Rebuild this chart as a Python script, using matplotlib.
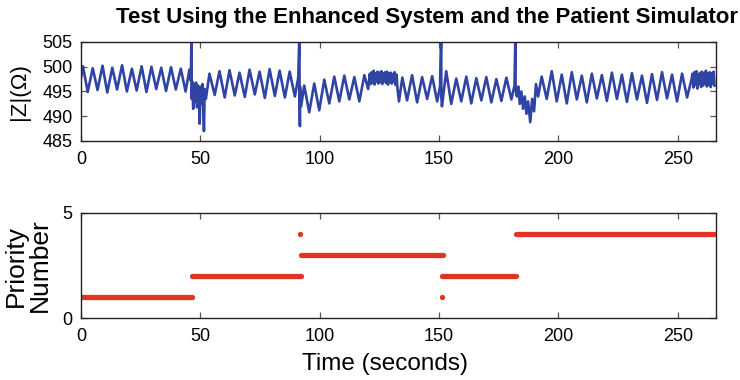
import matplotlib
matplotlib.use("Agg")
import matplotlib.pyplot as plt

plt.rcParams["font.family"] = ["Liberation Sans", "DejaVu Sans"]

# |Z| trace: turning points, segment by segment (time in s, ohms)
t_seg_a = [0.0, 0.8, 2.8, 4.9, 6.9, 9.0, 11.0, 13.1, 15.1, 17.2, 19.2, 21.3, 23.3,
           25.4, 27.4, 29.5, 31.5, 33.6, 35.6, 37.7, 39.7, 41.8, 43.8, 45.4, 46.0]
z_seg_a = [497.8, 500.1, 494.9, 499.7, 495.3, 500.2, 494.8, 499.8, 495.4, 500.3, 495.0, 499.6, 495.2,
           500.1, 494.9, 500.0, 495.5, 499.8, 495.1, 499.9, 495.4, 499.6, 495.0, 499.4, 497.2]
t_seg_b = [46.3, 46.35, 46.6, 47.0, 47.4, 47.8, 48.2, 48.6, 49.0, 49.4, 49.7, 50.1,
           50.5, 50.9, 51.3, 51.5, 51.8, 52.3]
z_seg_b = [507.0, 493.5, 497.0, 491.5, 496.5, 493.0, 496.8, 491.8, 496.2, 493.5, 488.5, 496.0,
           492.5, 496.5, 490.0, 487.0, 495.5, 493.5]
t_seg_c = [53.8, 56.0, 58.0, 60.2, 62.2, 64.4, 66.4, 68.6, 70.6, 72.8, 74.8, 77.0, 79.0,
           81.2, 83.2, 85.4, 87.4, 89.6, 91.0]
z_seg_c = [498.6, 494.3, 499.1, 493.8, 499.3, 494.2, 498.8, 493.9, 499.4, 494.4, 499.0, 493.7, 499.5,
           494.1, 499.2, 493.8, 499.0, 494.0, 497.8]
t_seg_d = [91.5, 91.55, 91.7, 91.75, 92.2]
z_seg_d = [507.0, 495.0, 488.0, 496.0, 492.0]
t_seg_e = [93.5, 95.6, 97.7, 99.8, 101.9, 104.0, 106.1, 108.2, 110.3, 112.4, 114.5, 116.6, 118.7, 120.3]
z_seg_e = [496.2, 490.8, 496.6, 491.2, 497.4, 492.6, 498.0, 493.0, 498.2, 493.4, 497.9, 493.0, 498.3, 495.5]
t_seg_f = [121.0, 121.4, 121.8, 122.2, 122.6, 123.0, 123.4, 123.8, 124.2, 124.6, 125.0, 125.4,
           125.8, 126.2, 126.6, 127.0, 127.4, 127.8, 128.2, 128.6, 129.0, 129.4, 129.8, 130.2,
           130.6, 131.0, 131.4, 131.8, 132.2, 132.6]
z_seg_f = [498.6, 496.5, 498.9, 496.8, 499.2, 496.4, 498.7, 497.0, 499.0, 496.6, 498.8, 496.9,
           499.1, 496.5, 498.6, 497.1, 498.9, 496.7, 499.0, 496.4, 498.7, 496.9, 498.8, 496.6,
           498.5, 497.0, 498.9, 496.3, 498.4, 495.5]
t_seg_g = [133.2, 134.6, 136.6, 138.7, 140.8, 142.9, 145.0, 147.1, 149.2, 150.4]
z_seg_g = [493.0, 497.8, 493.2, 498.3, 492.8, 497.9, 493.5, 498.1, 493.0, 496.0]
t_seg_h = [150.9, 150.95, 151.2]
z_seg_h = [507.0, 494.0, 492.0]
t_seg_i = [153.0, 155.1, 157.2, 159.3, 161.4, 163.5, 165.6, 167.7, 169.8, 171.9, 174.0,
           176.1, 178.2, 180.3, 181.6]
z_seg_i = [499.1, 492.5, 497.6, 493.0, 498.0, 492.6, 497.7, 493.2, 497.9, 492.8, 497.5,
           493.1, 497.8, 493.4, 496.2]
t_seg_j = [182.0, 182.05, 182.6, 183.2, 183.8, 184.5, 185.2, 185.9, 186.6, 187.3, 188.2,
           189.0, 189.8, 190.6, 191.5]
z_seg_j = [507.0, 495.5, 494.0, 496.0, 492.5, 495.0, 491.5, 494.0, 490.5, 493.0, 488.8,
           493.5, 491.0, 496.5, 494.0]
t_seg_k = [193.0, 195.1, 197.2, 199.3, 201.4, 203.5, 205.6, 207.7, 209.8, 211.9, 214.0,
           216.1, 218.2, 220.3, 222.4, 224.5, 226.6, 228.7, 230.8, 232.9, 235.0, 237.1,
           239.2, 241.3, 243.4, 245.5, 247.6, 249.7, 251.8, 253.9, 255.8]
z_seg_k = [498.0, 493.5, 499.1, 493.0, 498.4, 492.6, 498.9, 493.4, 498.2, 492.8, 498.6,
           493.6, 498.3, 493.1, 498.8, 493.5, 498.4, 492.9, 498.7, 493.4, 498.2, 492.7,
           498.5, 493.3, 498.9, 493.6, 498.4, 493.0, 498.6, 493.8, 497.5]
t_seg_l = [256.2, 256.6, 257.0, 257.4, 257.8, 258.2, 258.6, 259.0, 259.4, 259.8, 260.2, 260.6,
           261.0, 261.4, 261.8, 262.2, 262.6, 263.0, 263.4, 263.8, 264.2, 264.6, 265.0, 265.4]
z_seg_l = [498.6, 495.8, 498.9, 496.3, 499.1, 495.6, 498.5, 496.5, 498.8, 495.9, 499.0, 496.2,
           498.7, 496.6, 499.2, 496.0, 498.6, 496.4, 498.9, 495.9, 498.7, 496.5, 499.0, 496.2]

# priority number: constant runs (start, end, level) and single outlier samples
prio_start = [0.0, 46.6, 92.1, 151.2, 182.2]
prio_end = [46.3, 92.0, 151.5, 182.1, 265.0]
prio_level = [1, 2, 3, 2, 4]
outlier_t = [91.8, 151.2]
outlier_level = [4, 1]

BLUE = "#2f44a3"
RED = "#e03424"

t_all = (t_seg_a + t_seg_b + t_seg_c + t_seg_d + t_seg_e + t_seg_f
         + t_seg_g + t_seg_h + t_seg_i + t_seg_j + t_seg_k + t_seg_l)
z_all = (z_seg_a + z_seg_b + z_seg_c + z_seg_d + z_seg_e + z_seg_f
         + z_seg_g + z_seg_h + z_seg_i + z_seg_j + z_seg_k + z_seg_l)

fig = plt.figure(figsize=(7.4, 3.8), dpi=100)
ax1 = fig.add_axes([0.1095, 0.629, 0.858, 0.2605])
ax2 = fig.add_axes([0.1095, 0.163, 0.858, 0.2765])

ax1.plot(t_all, z_all, color=BLUE, linewidth=1.9)
ax1.set_xlim(0, 266)
ax1.set_ylim(485, 505)
ax1.set_yticks([485, 490, 495, 500, 505])
ax1.set_xticks([0, 50, 100, 150, 200, 250])
ax1.set_ylabel("|Z|(Ω)", fontsize=16, labelpad=9)

for s, e, lv in zip(prio_start, prio_end, prio_level):
    ax2.plot([s, e], [lv, lv], color=RED, linewidth=3.8, solid_capstyle="round")
ax2.plot(outlier_t, outlier_level, "o", color=RED, markersize=3.8, markeredgewidth=0)
ax2.set_xlim(0, 266)
ax2.set_ylim(0, 5)
ax2.set_yticks([0, 5])
ax2.set_xticks([0, 50, 100, 150, 200, 250])
ax2.set_ylabel("Priority\nNumber", fontsize=19, labelpad=8, linespacing=1.0)
ax2.set_xlabel("Time (seconds)", fontsize=17.5, labelpad=6)
ax2.xaxis.set_label_coords(0.478, -0.33)

for ax in (ax1, ax2):
    ax.tick_params(direction="in", length=4, width=0.9, top=True, right=True,
                   labelsize=13, color="#555555")
    ax.tick_params(axis="x", pad=7)
    ax.tick_params(axis="y", pad=6)
    for sp in ax.spines.values():
        sp.set_linewidth(1.0)
        sp.set_color("#222222")

fig.text(0.577, 0.953, "Test Using the Enhanced System and the Patient Simulator",
         ha="center", va="center", fontsize=16, fontweight="bold")

fig.savefig("out.png", dpi=100)
